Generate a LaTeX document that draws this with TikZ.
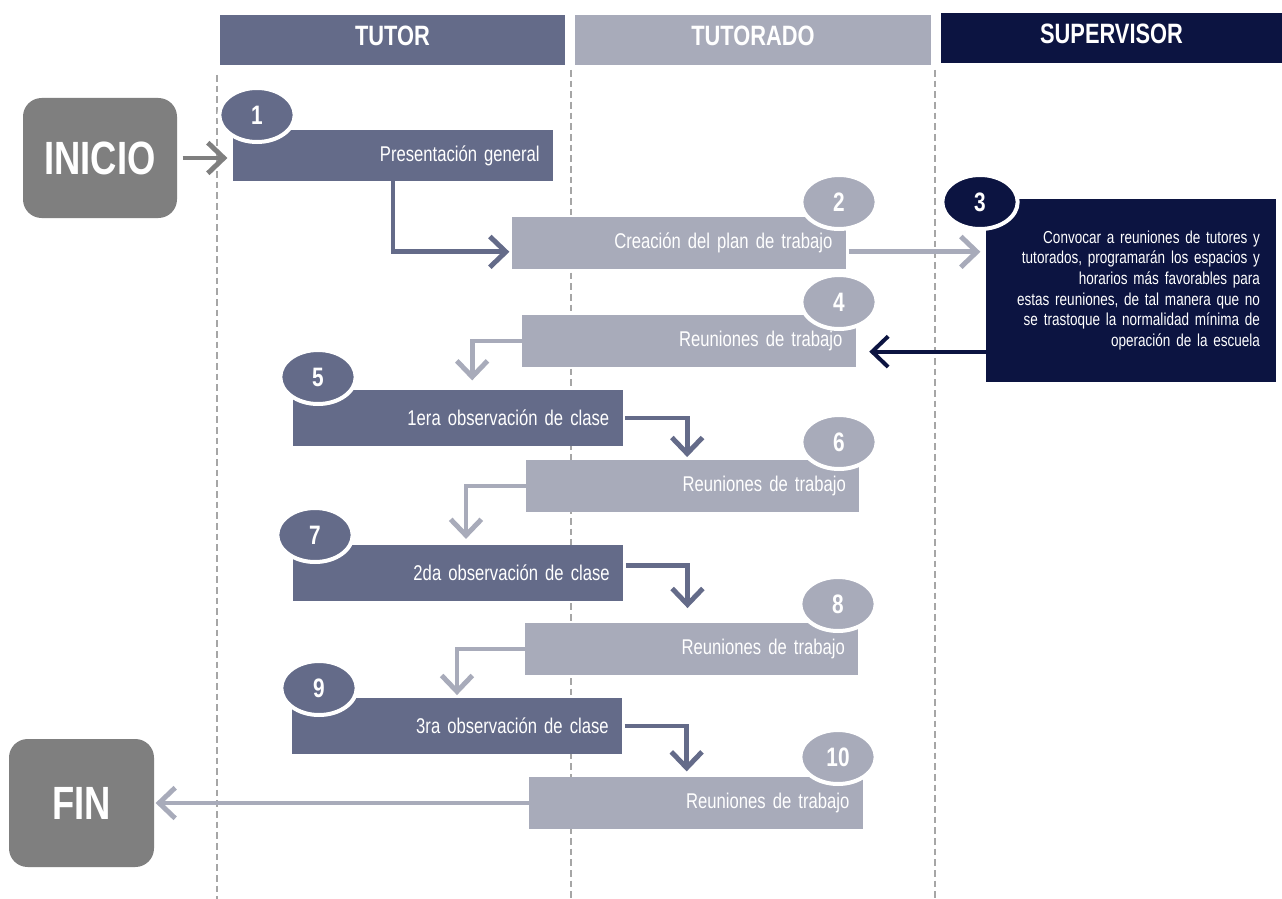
\documentclass[tikz,border=0pt]{standalone}
\usepackage{fontspec}
\newfontfamily\narrowfont[FakeStretch=0.78]{Liberation Sans}
\usepackage{tikz}
\usetikzlibrary{arrows.meta,positioning,calc,shapes.geometric}
\definecolor{tutor}{HTML}{646B89}
\definecolor{tutorado}{HTML}{A8ABBA}
\definecolor{superv}{HTML}{0C1441}
\definecolor{term}{HTML}{7F7F7F}
\definecolor{lane}{HTML}{A6A6A6}
\tikzset{
  head/.style={minimum height=37.5pt, inner sep=0pt, text depth=6pt, text=white, font=\narrowfont\fontsize{21}{21}\selectfont\bfseries},
  ends/.style={rounded corners=14pt, fill=term, inner sep=0pt, text=white, font=\narrowfont\fontsize{35}{35}\selectfont\bfseries},
  stage/.style={inner xsep=10pt, inner ysep=0pt, text=white, align=right, font=\narrowfont\fontsize{16}{18}\selectfont},
  tutorbox/.style={stage, fill=tutor, text width=227.5pt, minimum height=42pt},
  tutoradobox/.style={stage, fill=tutorado, text width=230pt, minimum height=39pt},
  supbox/.style={stage, fill=superv, inner xsep=12pt, text width=193.5pt, minimum height=137pt, font=\narrowfont\fontsize{13}{15.5}\selectfont},
  badge/.style={ellipse, draw=white, line width=3pt, minimum width=56.5pt, minimum height=40.5pt, inner sep=0pt, text=white, font=\narrowfont\fontsize{20}{20}\selectfont\bfseries},
  sep/.style={draw=lane, line width=0.8pt, dash pattern=on 5pt off 3pt},
  flow/.style={-{Straight Barb[length=12pt,width=23pt]}, line width=3.7pt},
}

\begin{document}
\begin{tikzpicture}[x=0.75pt,y=-0.75pt]
  \fill[white] (0,0) rectangle (1282,899);
  \useasboundingbox (0,0) rectangle (1282,899);
  % lane separators
  \draw[sep] (217,75) -- (217,899);
  \draw[sep] (571,70) -- (571,899);
  \draw[sep] (935,70) -- (935,899);
  % lane headers
  \node[head,fill=tutor,minimum width=258.75pt](hTutor) at (392.5,40){TUTOR};
  \node[head,fill=tutorado,minimum width=267pt](hTutorado) at (753,40){TUTORADO};
  \node[head,fill=superv,minimum width=255.75pt](hSup) at (1111.5,38){SUPERVISOR};
  % start / end
  \node[ends,minimum width=115.5pt,minimum height=90pt](inicio) at (100,158){INICIO};
  \node[ends,minimum width=108.75pt,minimum height=96pt,text depth=-4pt](fin) at (81.5,803){FIN};
  % stages
  \node[tutorbox,text width=220pt,minimum height=38pt](b1) at (393,155.5){Presentación general};
  \node[tutoradobox](b2) at (679,242.5){Creación del plan de trabajo};
  \node[supbox](b3) at (1131,290.5){Convocar a reuniones de tutores y\\tutorados, programarán los espacios y\\horarios más favorables para\\estas reuniones, de tal manera que no\\se trastoque la normalidad mínima de\\operación de la escuela};
  \node[tutoradobox](b4) at (689,341){Reuniones de trabajo};
  \node[tutorbox](b5) at (457.5,418){1era observación de clase};
  \node[tutoradobox](b6) at (692.5,486){Reuniones de trabajo};
  \node[tutorbox](b7) at (458,572.5){2da observación de clase};
  \node[tutoradobox](b8) at (691.5,649){Reuniones de trabajo};
  \node[tutorbox](b9) at (457,726){3ra observación de clase};
  \node[tutoradobox](b10) at (696,803){Reuniones de trabajo};
  % step numbers
  \node[badge,fill=tutor](n1) at (257,115){1};
  \node[badge,fill=tutorado](n2) at (839,202){2};
  \node[badge,fill=superv](n3) at (980,202){3};
  \node[badge,fill=tutorado](n4) at (839,302){4};
  \node[badge,fill=tutor](n5) at (318,377){5};
  \node[badge,fill=tutorado](n6) at (839,442){6};
  \node[badge,fill=tutor](n7) at (315,535){7};
  \node[badge,fill=tutorado](n8) at (838,604){8};
  \node[badge,fill=tutor](n9) at (319,688){9};
  \node[badge,fill=tutorado](n10) at (838,757){10};
  % arrows
  \coordinate (p2) at ([yshift=-7pt]b2.east);
  \coordinate (p4) at ([yshift=-8pt]b4.east);
  \draw[flow,draw=term,shorten <=4pt,shorten >=4pt](inicio.east) -- (inicio.east -| b1.west);
  \draw[flow,draw=tutor,shorten >=2pt](b1.south) |- ([yshift=-7pt]b2.west);
  \draw[flow,draw=tutorado,shorten <=2pt,shorten >=4pt](p2) -- (p2 -| b3.west);
  \draw[flow,draw=superv,line width=3pt,shorten >=10pt](p4 -| b3.west) -- (p4);
  \draw[flow,draw=tutorado,shorten >=7pt](b4.west) -| ([xshift=11pt]b5.north);
  \draw[flow,draw=tutor,shorten <=2pt,shorten >=2pt](b5.east) -| ([xshift=-4pt]b6.north);
  \draw[flow,draw=tutorado,shorten >=4pt](b6.west) -| ([xshift=6pt]b7.north);
  \draw[flow,draw=tutor,shorten <=2pt,shorten >=11pt]([yshift=5pt]b7.east) -| ([xshift=-3pt]b8.north);
  \draw[flow,draw=tutorado,shorten >=2pt](b8.west) -| (b9.north);
  \draw[flow,draw=tutor,shorten <=2pt,shorten >=4pt](b9.east) -| ([xshift=-7pt]b10.north);
  \draw[flow,draw=tutorado,shorten >=1pt](b10.west) -- (b10.west -| fin.east);
\end{tikzpicture}
\end{document}
